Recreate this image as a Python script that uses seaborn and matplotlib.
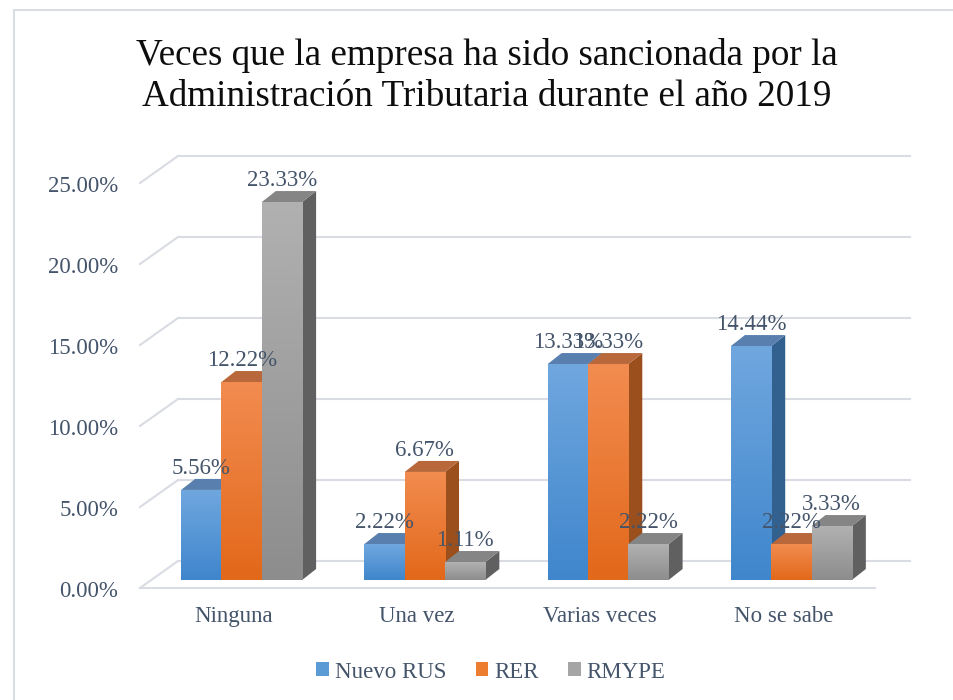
import numpy as np
import pandas as pd
import seaborn as sns
import matplotlib.pyplot as plt
from matplotlib.patches import Polygon, Rectangle
from matplotlib.lines import Line2D
from matplotlib.transforms import offset_copy, IdentityTransform
from matplotlib.colors import LinearSegmentedColormap

# Data
categorias = ["Ninguna", "Una vez", "Varias veces", "No se sabe"]
series = ["Nuevo RUS", "RER", "RMYPE"]
nuevo_rus = [5.56, 2.22, 13.33, 14.44]
rer = [12.22, 6.67, 13.33, 2.22]
rmype = [23.33, 1.11, 2.22, 3.33]
y_ticks = [0, 5, 10, 15, 20, 25]

titulo = "Veces que la empresa ha sido sancionada por la\nAdministración Tributaria durante el año 2019"

# Colours (base, front gradient bottom/top, side, top face)
base_colors = ["#5b9bd5", "#ed7d31", "#a5a5a5"]
front_bottom = ["#3f86cc", "#e2681a", "#8d8d8d"]
front_top = ["#70a7df", "#f28c50", "#b1b1b1"]
side_colors = ["#33618f", "#9a4f1d", "#606060"]
top_colors = ["#587fae", "#b9683c", "#858585"]
text_color = "#44546a"
grid_color = "#d9dce3"

df = pd.DataFrame({
    "categoria": categorias * 3,
    "serie": np.repeat(series, len(categorias)),
    "valor": nuevo_rus + rer + rmype,
})

plt.rcParams["font.family"] = ["Liberation Serif", "DejaVu Serif"]

fig = plt.figure(figsize=(9.54, 7), dpi=100)
ax_w, ax_h = 733, 405
ax = fig.add_axes([150 / 954, 120 / 700, ax_w / 954, ax_h / 700])
ax.set_facecolor("none")

sns.barplot(
    df, x="categoria", y="valor", hue="serie", palette=base_colors,
    width=0.66, saturation=1, legend=False, ax=ax, linewidth=0,
)

xlim = (-0.5, len(categorias) - 0.5)
ylim = (0, 25)

# 3D depth of the bars, pixels -> data units
dx = 14 * (xlim[1] - xlim[0]) / ax_w
dy = 11 * (ylim[1] - ylim[0]) / ax_h

grad = np.linspace(0, 1, 256).reshape(-1, 1)
for k, container in enumerate(ax.containers):
    cmap = LinearSegmentedColormap.from_list(f"g{k}", [front_bottom[k], front_top[k]])
    for bar in container:
        x0, w, h = bar.get_x(), bar.get_width(), bar.get_height()
        z = 3 + x0
        ax.add_patch(Polygon(
            [(x0 + w, 0), (x0 + w + dx, dy), (x0 + w + dx, h + dy), (x0 + w, h)],
            closed=True, facecolor=side_colors[k], edgecolor="none", zorder=z,
        ))
        ax.add_patch(Polygon(
            [(x0, h), (x0 + w, h), (x0 + w + dx, h + dy), (x0 + dx, h + dy)],
            closed=True, facecolor=top_colors[k], edgecolor="none", zorder=z,
        ))
        bar.set_zorder(z + 0.01)
        im = ax.imshow(grad, extent=(x0, x0 + w, 0, h), aspect="auto", cmap=cmap,
                       origin="lower", zorder=z + 0.02)
        im.set_clip_path(bar)
        ax.text(x0 + w / 2, h, f"{h:.2f}%", ha="center", va="bottom", fontsize=16.5,
                color=text_color, zorder=20,
                transform=offset_copy(ax.transData, fig=fig, x=0, y=11, units="dots"))

ax.set_xlim(*xlim)
ax.set_ylim(*ylim)

# Back wall gridlines, left diagonals and floor front edge
for v in y_ticks:
    p0 = ax.transData.transform((xlim[0], v))
    p1 = ax.transData.transform((xlim[1], v))
    ax.add_line(Line2D([p0[0] + 28, p1[0] + 27], [p0[1] + 19, p1[1] + 19],
                       transform=IdentityTransform(), color=grid_color, lw=1.5,
                       clip_on=False, zorder=1))
    ax.add_line(Line2D([p0[0] - 10, p0[0] + 28], [p0[1] - 8, p0[1] + 19],
                       transform=IdentityTransform(), color=grid_color, lw=1.5,
                       clip_on=False, zorder=1))
p0 = ax.transData.transform((xlim[0], 0))
p1 = ax.transData.transform((xlim[1], 0))
ax.add_line(Line2D([p0[0] - 10, p1[0] - 8], [p0[1] - 8, p1[1] - 8],
                   transform=IdentityTransform(), color=grid_color, lw=1.5,
                   clip_on=False, zorder=1))

# Axes format
for s in ax.spines.values():
    s.set_visible(False)
ax.grid(False)
ax.set_xlabel(None)
ax.set_ylabel(None)
ax.set_yticks(y_ticks, labels=[f"{v:.2f}%" for v in y_ticks])
ax.tick_params(axis="both", length=0, labelsize=16.5, labelcolor=text_color)
ax.tick_params(axis="y", pad=23)
ax.tick_params(axis="x", pad=19)
for lab in ax.get_yticklabels():
    lab.set_transform(offset_copy(lab.get_transform(), fig=fig, x=0, y=-9, units="dots"))
for lab in ax.get_xticklabels():
    lab.set_transform(offset_copy(lab.get_transform(), fig=fig, x=-8, y=0, units="dots"))

# Title
fig.text(487 / 954, 1 - 76 / 700, titulo, ha="center", va="center", fontsize=26.7,
         color="#0d0d0d", linespacing=1.28)

# Legend
handles = [Rectangle((0, 0), 1, 1, facecolor=c, edgecolor="none") for c in base_colors]
fig.legend(handles, series, loc="center", bbox_to_anchor=(491 / 954, 1 - 672 / 700),
           ncol=3, frameon=False, handlelength=0.55, handleheight=0.55,
           handletextpad=0.25, columnspacing=1.3, fontsize=16.5, labelcolor=text_color)

# Chart border
fig.add_artist(Rectangle((14 / 954, -0.1), 1.5, 0.1 + 690 / 700, transform=fig.transFigure,
                         fill=False, edgecolor=grid_color, lw=1.5))

plt.savefig("out.png", dpi=100)
